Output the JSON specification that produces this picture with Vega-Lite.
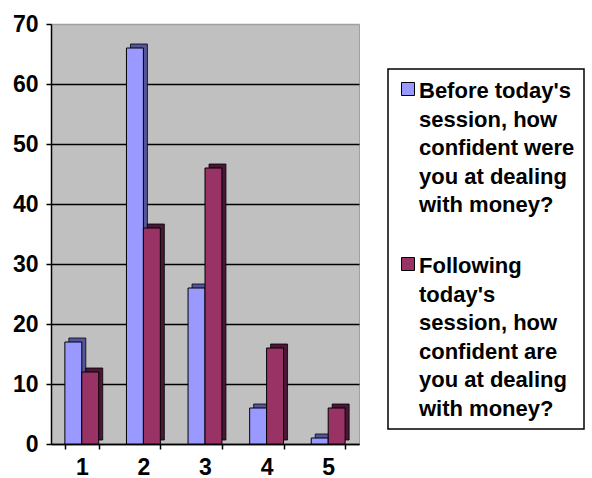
{
  "$schema": "https://vega.github.io/schema/vega-lite/v6.json",
  "width": 308,
  "height": 420,
  "autosize": {"type": "none"},
  "padding": {"left": 51, "top": 24, "right": 233, "bottom": 34},
  "background": "white",
  "config": {
    "font": "Liberation Sans",
    "view": {"fill": "#C0C0C0", "stroke": "#A0A0A0", "strokeWidth": 1},
    "legend": {
      "orient": "none",
      "legendX": 337,
      "legendY": 45,
      "strokeColor": "black",
      "strokeWidth": 1.5,
      "fillColor": "white",
      "padding": 9,
      "symbolType": "square",
      "symbolSize": 169,
      "symbolStrokeColor": "black",
      "symbolStrokeWidth": 1,
      "labelFont": "Liberation Sans",
      "labelFontSize": 22,
      "labelFontWeight": "bold",
      "labelColor": "black",
      "labelOffset": 0,
      "labelLimit": 400,
      "rowPadding": 37,
      "labelBaseline": "top"
    }
  },
  "data": {
    "values": [
      {"rating": "1", "series": "Before today's session, how confident were you at dealing with money?", "value": 17},
      {"rating": "2", "series": "Before today's session, how confident were you at dealing with money?", "value": 66},
      {"rating": "3", "series": "Before today's session, how confident were you at dealing with money?", "value": 26},
      {"rating": "4", "series": "Before today's session, how confident were you at dealing with money?", "value": 6},
      {"rating": "5", "series": "Before today's session, how confident were you at dealing with money?", "value": 1},
      {"rating": "1", "series": "Following today's session, how confident are you at dealing with money?", "value": 12},
      {"rating": "2", "series": "Following today's session, how confident are you at dealing with money?", "value": 36},
      {"rating": "3", "series": "Following today's session, how confident are you at dealing with money?", "value": 46},
      {"rating": "4", "series": "Following today's session, how confident are you at dealing with money?", "value": 16},
      {"rating": "5", "series": "Following today's session, how confident are you at dealing with money?", "value": 6}
    ]
  },
  "encoding": {
    "x": {
      "field": "rating",
      "type": "nominal",
      "scale": {"paddingInner": 0.45, "paddingOuter": 0.225},
      "axis": {
        "title": null,
        "labelAngle": 0,
        "labelFont": "Liberation Sans",
        "labelFontSize": 23,
        "labelFontWeight": "bold",
        "labelColor": "black",
        "labelPadding": 7,
        "tickSize": 5,
        "tickColor": "black",
        "tickWidth": 1.5,
        "tickBand": "extent",
        "domainColor": "black",
        "domainWidth": 1.5,
        "grid": false
      }
    },
    "y": {
      "field": "value",
      "type": "quantitative",
      "scale": {"domain": [0, 70], "nice": false},
      "axis": {
        "title": null,
        "values": [0, 10, 20, 30, 40, 50, 60, 70],
        "labelFont": "Liberation Sans",
        "labelFontSize": 23,
        "labelFontWeight": "bold",
        "labelColor": "black",
        "labelPadding": 8,
        "tickSize": 5,
        "tickColor": "black",
        "tickWidth": 1.5,
        "domainColor": "black",
        "domainWidth": 1.5,
        "gridColor": {"condition": {"test": "datum.value === 70", "value": "#A0A0A0"}, "value": "black"},
        "gridWidth": 1.5,
        "gridOpacity": 1
      }
    }
  },
  "layer": [
    {
      "mark": {"type": "bar", "yOffset": -4, "stroke": "black", "strokeWidth": 0.8},
      "encoding": {
        "xOffset": {"field": "series", "type": "nominal", "scale": {"range": [4, 37.88]}},
        "color": {
          "field": "series",
          "type": "nominal",
          "scale": {"range": ["#55559C", "#4A1836"]},
          "legend": null
        }
      }
    },
    {
      "mark": {"type": "bar", "stroke": "black", "strokeWidth": 1},
      "encoding": {
        "xOffset": {"field": "series", "type": "nominal"},
        "color": {
          "field": "series",
          "type": "nominal",
          "scale": {"range": ["#9999FF", "#993366"]},
          "legend": {
            "title": null,
            "labelExpr": "substring(datum.label, 0, 6) === 'Before' ? [\"Before today's\", 'session, how', 'confident were', 'you at dealing', 'with money?'] : ['Following', \"today's\", 'session, how', 'confident are', 'you at dealing', 'with money?']",
            "encode": {"labels": {"update": {"lineHeight": {"value": 28.5}, "dy": {"value": -8}}}}
          }
        }
      }
    }
  ],
  "resolve": {"scale": {"color": "independent", "xOffset": "independent"}}
}
